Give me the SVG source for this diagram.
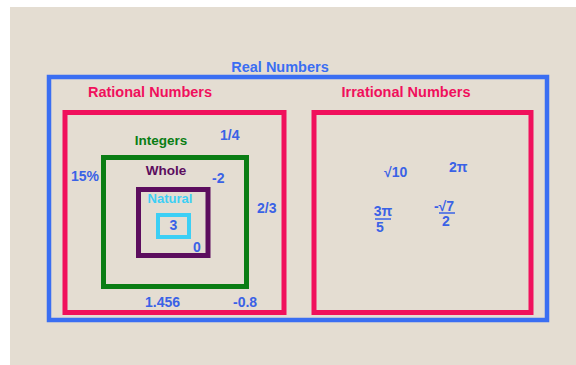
<svg xmlns="http://www.w3.org/2000/svg" width="576" height="365" viewBox="0 0 576 365">
<style>
text{font-family:"Liberation Sans",Arial,sans-serif;font-weight:bold;}
.box{fill:none;}
.t{font-size:14.5px;text-anchor:middle;}
.n{font-size:14px;fill:#3a62e6;}
</style>
<rect x="0" y="0" width="576" height="365" fill="#ffffff"/>
<rect x="10" y="7" width="566" height="358" fill="#e4ddd2"/>
<g id="real">
<rect class="box" x="49" y="77" width="498" height="243" stroke="#3a6ef2" stroke-width="4.5"/>
<text class="t" x="280" y="72" fill="#3a6ef2">Real Numbers</text>
</g>
<g id="rational">
<rect class="box" x="65" y="112.5" width="219" height="200" stroke="#f0105c" stroke-width="5"/>
<text class="t" x="150" y="97" fill="#f0105c">Rational Numbers</text>
<text class="n" x="220" y="140">1/4</text>
<text class="n" x="71" y="181">15%</text>
<text class="n" x="257" y="213">2/3</text>
<text class="n" x="145" y="307">1.456</text>
<text class="n" x="233" y="307">-0.8</text>
</g>
<g id="irrational">
<rect class="box" x="314" y="112.5" width="217" height="200" stroke="#f0105c" stroke-width="5"/>
<text class="t" x="406" y="97" fill="#f0105c">Irrational Numbers</text>
<text class="n" x="384" y="177">√10</text>
<text class="n" x="449" y="172">2π</text>
<text class="n" x="383" y="216" text-anchor="middle">3π</text>
<line x1="375" y1="219" x2="391" y2="219" stroke="#3a62e6" stroke-width="1.5"/>
<text class="n" x="380" y="232" text-anchor="middle">5</text>
<text class="n" x="444" y="211" text-anchor="middle">-√7</text>
<line x1="439" y1="213" x2="455" y2="213" stroke="#3a62e6" stroke-width="1.5"/>
<text class="n" x="446" y="226" text-anchor="middle">2</text>
</g>
<g id="integers">
<rect class="box" x="103.5" y="157.5" width="143" height="129" stroke="#0a7d14" stroke-width="5"/>
<text class="t" x="161" y="145" fill="#0a7d14" style="font-size:13.5px">Integers</text>
<text class="n" x="212" y="183">-2</text>
</g>
<g id="whole">
<rect class="box" x="138.5" y="189.5" width="69.5" height="66" stroke="#5c0d5e" stroke-width="5"/>
<text class="t" x="166" y="175" fill="#5c0d5e" style="font-size:13.5px">Whole</text>
<text class="n" x="193" y="252">0</text>
</g>
<g id="natural">
<rect class="box" x="158" y="215" width="31" height="22" stroke="#3ccff5" stroke-width="4"/>
<text class="t" x="170" y="203" fill="#3ccff5" style="font-size:13px">Natural</text>
<text class="n" x="173.5" y="230" text-anchor="middle">3</text>
</g>
<g id="connectors"></g>
</svg>
